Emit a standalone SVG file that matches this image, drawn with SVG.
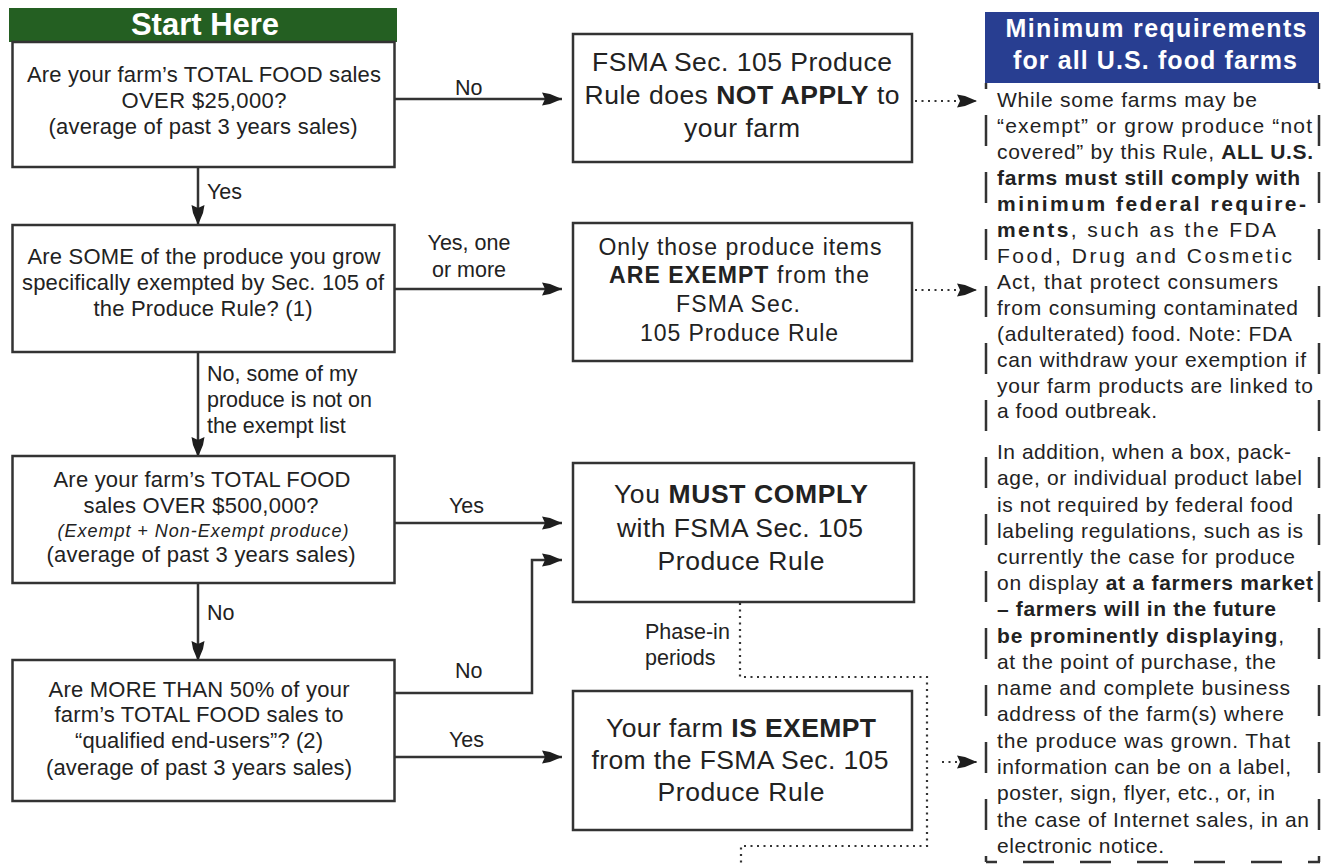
<svg xmlns="http://www.w3.org/2000/svg" width="1323" height="864" viewBox="0 0 1323 864">
<defs>
<marker id="ah" viewBox="0 -7 21 14" refX="20" refY="0" markerWidth="21" markerHeight="14" markerUnits="userSpaceOnUse" orient="auto">
<path d="M0,-6.5 L8,-5 L20,0 L8,5 L0,6.5 L3,0 Z" fill="#1e1e1e"/>
</marker>
</defs>
<style>
.bx{fill:#fff;stroke:#333;stroke-width:2.5}
.t{font-family:"Liberation Sans",Arial,sans-serif;fill:#222;text-anchor:middle}
.q{font-size:22px}
.m{font-size:26.5px}
.s{font-size:23px}
.lb{font-family:"Liberation Sans",Arial,sans-serif;fill:#222;font-size:21.5px}
.r{font-family:"Liberation Sans",Arial,sans-serif;fill:#222;font-size:21px}
.b{font-weight:bold}
.hd{font-family:"Liberation Sans",Arial,sans-serif;fill:#fff;font-weight:bold;text-anchor:middle}
.ln{fill:none;stroke:#333;stroke-width:2.5}
.dt{fill:none;stroke:#333;stroke-width:2.2;stroke-dasharray:2 4.5}
.dash{fill:none;stroke:#333;stroke-width:2.5;stroke-dasharray:31 26}
</style>
<rect width="1323" height="864" fill="#fff"/>

<g id="connectors">
<line class="ln" x1="394" y1="99" x2="562" y2="99" marker-end="url(#ah)"/>
<line class="ln" x1="394" y1="289" x2="562" y2="289" marker-end="url(#ah)"/>
<line class="ln" x1="394" y1="523" x2="562" y2="523" marker-end="url(#ah)"/>
<polyline class="ln" points="394,693 532,693 532,560 562,560" marker-end="url(#ah)"/>
<line class="ln" x1="394" y1="757" x2="562" y2="757" marker-end="url(#ah)"/>
<line class="ln" x1="198" y1="167" x2="198" y2="225" marker-end="url(#ah)"/>
<line class="ln" x1="198" y1="352" x2="198" y2="457" marker-end="url(#ah)"/>
<line class="ln" x1="198" y1="583" x2="198" y2="661" marker-end="url(#ah)"/>
<line class="dt" x1="915" y1="101" x2="977" y2="101" marker-end="url(#ah)"/>
<line class="dt" x1="915" y1="290" x2="977" y2="290" marker-end="url(#ah)"/>
<line class="dt" x1="942" y1="762" x2="977" y2="762" marker-end="url(#ah)"/>
<polyline class="dt" points="740,603 740,677 927,677 927,846 741,846 741,864"/>
<text class="lb" x="455" y="95">No</text>
<text class="lb" x="469" y="250" text-anchor="middle">Yes, one</text>
<text class="lb" x="469" y="277" text-anchor="middle">or more</text>
<text class="lb" x="449" y="513">Yes</text>
<text class="lb" x="455" y="678">No</text>
<text class="lb" x="449" y="747">Yes</text>
<text class="lb" x="207" y="199">Yes</text>
<text class="lb" x="207" y="381">No, some of my</text>
<text class="lb" x="207" y="407">produce is not on</text>
<text class="lb" x="207" y="433">the exempt list</text>
<text class="lb" x="207" y="620">No</text>
<text class="lb" x="645" y="639">Phase-in</text>
<text class="lb" x="645" y="665">periods</text>
</g>

<g id="start">
<rect x="9" y="8" width="388" height="34" fill="#245f22"/>
<text class="hd" x="205" y="35" font-size="31">Start Here</text>
<rect class="bx" x="12.5" y="42" width="382" height="125"/>
<text class="t q" x="204" y="82" textLength="354">Are your farm’s TOTAL FOOD sales</text>
<text class="t q" x="204" y="108" textLength="165">OVER $25,000?</text>
<text class="t q" x="203" y="134" textLength="309">(average of past 3 years sales)</text>
</g>

<g id="q2">
<rect class="bx" x="12.5" y="225" width="382" height="127"/>
<text class="t q" x="204" y="264" textLength="353">Are SOME of the produce you grow</text>
<text class="t q" x="203" y="290" textLength="362">specifically exempted by Sec. 105 of</text>
<text class="t q" x="203" y="316" textLength="219">the Produce Rule? (1)</text>
</g>

<g id="q3">
<rect class="bx" x="12.5" y="456" width="382" height="127"/>
<text class="t q" x="202" y="487" textLength="297">Are your farm’s TOTAL FOOD</text>
<text class="t q" x="201" y="513" textLength="235">sales OVER $500,000?</text>
<text class="t" x="203" y="537" font-size="18" font-style="italic" textLength="291">(Exempt + Non-Exempt produce)</text>
<text class="t q" x="201" y="562" textLength="309">(average of past 3 years sales)</text>
</g>

<g id="q4">
<rect class="bx" x="12.5" y="660" width="382" height="141"/>
<text class="t q" x="199" y="697" textLength="301">Are MORE THAN 50% of your</text>
<text class="t q" x="199" y="722" textLength="289">farm’s TOTAL FOOD sales to</text>
<text class="t q" x="199" y="748" textLength="248">“qualified end-users”? (2)</text>
<text class="t q" x="199" y="775" textLength="306">(average of past 3 years sales)</text>
</g>

<g id="notapply">
<rect class="bx" x="573" y="34" width="339" height="128"/>
<text class="t m" x="742" y="71" textLength="300">FSMA Sec. 105 Produce</text>
<text class="t m" x="742" y="104" textLength="315">Rule does <tspan class="b">NOT APPLY</tspan> to</text>
<text class="t m" x="742" y="137" textLength="116">your farm</text>
</g>

<g id="someexempt">
<rect class="bx" x="573" y="223" width="339" height="138"/>
<text class="t s" x="740" y="255" textLength="283">Only those produce items</text>
<text class="t s" x="739" y="283" textLength="260"><tspan class="b">ARE EXEMPT</tspan> from the</text>
<text class="t s" x="738" y="312" textLength="124">FSMA Sec.</text>
<text class="t s" x="739" y="341" textLength="198">105 Produce Rule</text>
</g>

<g id="comply">
<rect class="bx" x="573" y="463" width="341" height="139"/>
<text class="t m" x="741" y="503" textLength="254">You <tspan class="b">MUST COMPLY</tspan></text>
<text class="t m" x="740" y="537" textLength="246">with FSMA Sec. 105</text>
<text class="t m" x="741" y="570" textLength="167">Produce Rule</text>
</g>

<g id="exempt">
<rect class="bx" x="573" y="691" width="339" height="139"/>
<text class="t m" x="741" y="737" textLength="270">Your farm <tspan class="b">IS EXEMPT</tspan></text>
<text class="t m" x="740" y="769" textLength="297">from the FSMA Sec. 105</text>
<text class="t m" x="741" y="801" textLength="167">Produce Rule</text>
</g>

<g id="minimum">
<rect x="985" y="12" width="334" height="71" fill="#283e91"/>
<text class="hd" x="1156" y="37" font-size="25" textLength="301">Minimum requirements</text>
<text class="hd" x="1155" y="69" font-size="25" textLength="284">for all U.S. food farms</text>
<line class="dash" x1="986" y1="83" x2="986" y2="862" stroke-dashoffset="25"/>
<line class="dash" x1="1319" y1="83" x2="1319" y2="862" stroke-dashoffset="25"/>
<line class="dash" x1="986" y1="862" x2="1320" y2="862" stroke-dashoffset="20"/>
<text class="r" x="997" y="107" textLength="260">While some farms may be</text>
<text class="r" x="997" y="133" textLength="315">“exempt” or grow produce “not</text>
<text class="r" x="997" y="159" textLength="316">covered” by this Rule, <tspan class="b">ALL U.S.</tspan></text>
<text class="r b" x="997" y="185" textLength="303">farms must still comply with</text>
<text class="r b" x="997" y="211" textLength="309">minimum federal require-</text>
<text class="r" x="997" y="237" textLength="279"><tspan class="b">ments</tspan>, such as the FDA</text>
<text class="r" x="997" y="263" textLength="295">Food, Drug and Cosmetic</text>
<text class="r" x="997" y="289" textLength="281">Act, that protect consumers</text>
<text class="r" x="997" y="315" textLength="301">from consuming contaminated</text>
<text class="r" x="997" y="341" textLength="295">(adulterated) food. Note: FDA</text>
<text class="r" x="997" y="367" textLength="309">can withdraw your exemption if</text>
<text class="r" x="997" y="393" textLength="316">your farm products are linked to</text>
<text class="r" x="997" y="418" textLength="160">a food outbreak.</text>
<text class="r" x="997" y="459" textLength="294">In addition, when a box, pack-</text>
<text class="r" x="997" y="485" textLength="305">age, or individual product label</text>
<text class="r" x="997" y="512" textLength="296">is not required by federal food</text>
<text class="r" x="997" y="538" textLength="306">labeling regulations, such as is</text>
<text class="r" x="997" y="564" textLength="298">currently the case for produce</text>
<text class="r" x="997" y="590" textLength="316">on display <tspan class="b">at a farmers market</tspan></text>
<text class="r b" x="997" y="616" textLength="279">– farmers will in the future</text>
<text class="r" x="997" y="643" textLength="287"><tspan class="b">be prominently displaying</tspan>,</text>
<text class="r" x="997" y="669" textLength="279">at the point of purchase, the</text>
<text class="r" x="997" y="695" textLength="293">name and complete business</text>
<text class="r" x="997" y="721" textLength="287">address of the farm(s) where</text>
<text class="r" x="997" y="748" textLength="293">the produce was grown. That</text>
<text class="r" x="997" y="774" textLength="294">information can be on a label,</text>
<text class="r" x="997" y="800" textLength="278">poster, sign, flyer, etc., or, in</text>
<text class="r" x="997" y="827" textLength="312">the case of Internet sales, in an</text>
<text class="r" x="997" y="853" textLength="167">electronic notice.</text>
</g>
</svg>
